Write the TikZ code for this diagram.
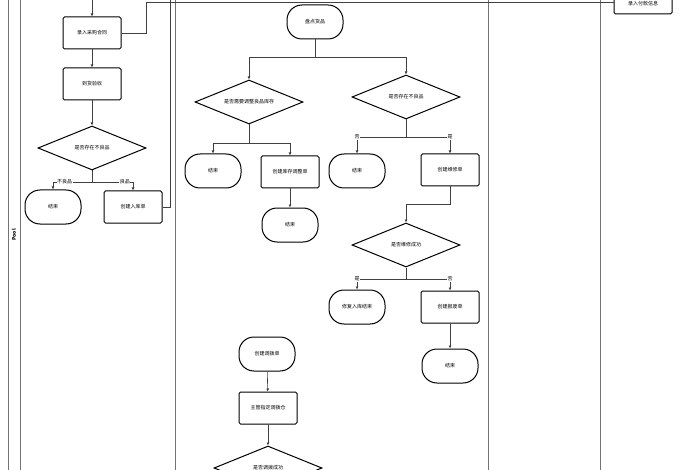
\documentclass[tikz,border=0pt]{standalone}
\usepackage{fontspec}
\setmainfont{Noto Sans CJK SC}
\usetikzlibrary{shapes.geometric,arrows.meta}
\begin{document}
\begin{tikzpicture}[x=1pt,y=-1pt,
 box/.style={draw,line width=1pt,rounded corners=1.5pt,minimum width=58pt,minimum height=32pt,font=\fontsize{5}{6}\selectfont,inner sep=1pt},
 term/.style={draw,line width=1pt,rounded corners=15pt,minimum width=56pt,minimum height=34pt,font=\fontsize{5}{6}\selectfont,inner sep=1pt},
 dia/.style={draw,line width=1pt,diamond,aspect=2.45,minimum width=108pt,minimum height=44pt,inner sep=0pt,font=\fontsize{5}{6}\selectfont},
 ar/.style={draw=black!75,line width=0.6pt,-{Latex[length=3pt,width=3pt]}},
 ln/.style={draw=black!75,line width=0.6pt},
 lane/.style={draw=black!55,line width=0.9pt},
 lb/.style={fill=white,inner sep=0.5pt,font=\fontsize{5}{6}\selectfont}]
\useasboundingbox (0,0) rectangle (700,470);
\fill[white] (0,0) rectangle (700,470);
% lanes
\draw[lane] (8,0)--(8,470); \draw[lane] (20,0)--(20,470);
\draw[lane] (175,0)--(175,470); \draw[lane] (488,0)--(488,470); \draw[lane] (600,0)--(600,470);
\node[rotate=90,font=\fontsize{5}{6}\selectfont\bfseries] (pool) at (14,235) {Pool};
% left column
\coordinate (top) at (92,0);
\node[box] (a1) at (92,33) {录入采购合同};
\node[box] (a2) at (92,84) {到货验收};
\node[dia] (a3) at (92,148) {是否存在不良品};
\node[term] (a4) at (53,207) {结束};
\node[box] (a5) at (133,207) {创建入库单};
\node[box,minimum height=20pt] (pay) at (643,4) {录入付款信息};
\draw[ar] (top)--(a1);
\draw[ar] (a1)--(a2);
\draw[ar] (a2)--(a3);
\draw[ar] (a3.south)--(92,182)-|(a4.north) node[lb,pos=0.35] {不良品};
\draw[ar] (92,182)-|(a5.north) node[lb,pos=0.4] {良品};
\draw[ln] (a1.east)--(146,33)--(146,2)--(pay.west|-0,2);
\draw[ln] (a5.east)--(170,207)--(170,0);
% middle
\node[term] (b0) at (315,22) {盘点货品};
\node[dia] (b1) at (249,102) {是否需要调整良品库存};
\node[term] (b2) at (213,171) {结束};
\node[box] (b3) at (290,172) {创建库存调整单};
\node[term] (b4) at (290,225) {结束};
\node[dia] (c1) at (406,97) {是否存在不良品};
\node[term] (c2) at (357,171) {结束};
\node[box] (c3) at (450,170) {创建维修单};
\node[dia] (c4) at (406,245) {是否维修成功};
\node[term] (c5) at (357,307) {修复入库结束};
\node[box] (c6) at (450,307) {创建报废单};
\node[term] (c7) at (450,366) {结束};
\node[term] (d1) at (267,354) {创建调拨单};
\node[box] (d2) at (268,408) {主管指定调拨仓};
\node[dia] (d3) at (268,468) {是否调拨成功};
\draw[ln] (b0.south)--(315,57);
\draw[ar] (315,57)-|(b1.north);
\draw[ar] (315,57)-|(c1.north);
\draw[ar] (b1.south)--(249,143)-|(b2.north);
\draw[ar] (249,143)-|(b3.north);
\draw[ar] (b3)--(b4);
\draw[ar] (c1.south)--(406,137)-|(c2.north) node[lb,pos=0.5] {否};
\draw[ar] (406,137)-|(c3.north) node[lb,pos=0.5] {是};
\draw[ar] (c3.south)--(450,204)-|(c4.north);
\draw[ar] (c4.south)--(406,279)-|(c5.north) node[lb,pos=0.5] {是};
\draw[ar] (406,279)-|(c6.north) node[lb,pos=0.5] {否};
\draw[ar] (c6)--(c7);
\draw[ar] (d1)--(d2);
\draw[ar] (d2)--(d3);
\end{tikzpicture}
\end{document}
